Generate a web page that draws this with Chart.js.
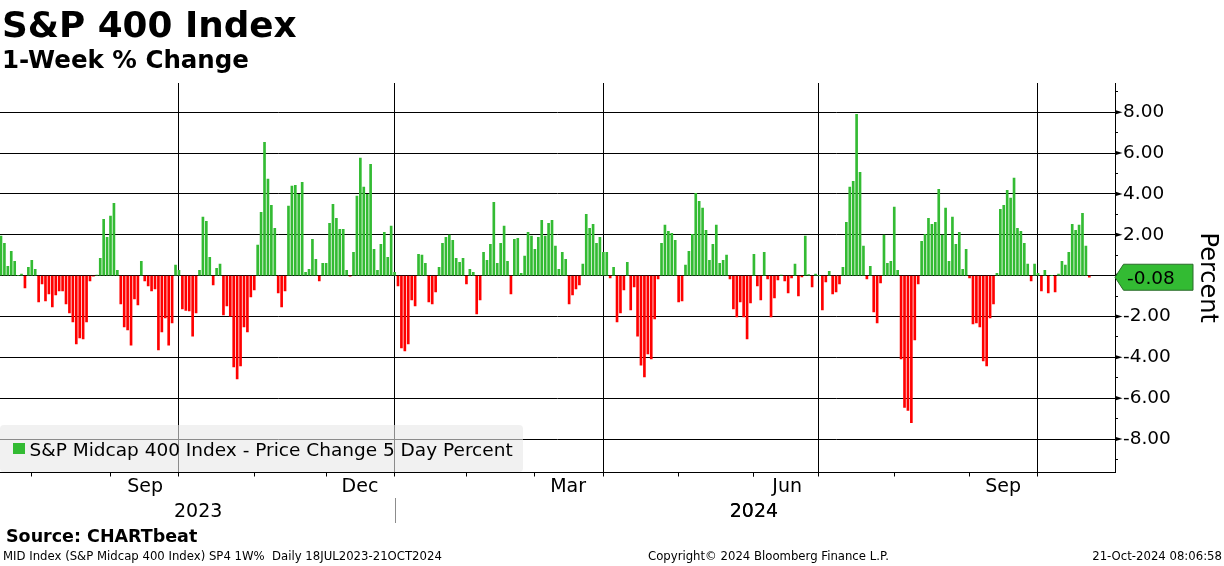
<!DOCTYPE html>
<html><head><meta charset="utf-8">
<script src="https://cdn.jsdelivr.net/npm/chart.js@4"></script>
<style>
html,body{margin:0;padding:0;background:#fff;}
#wrap{position:relative;width:1224px;height:566px;overflow:hidden;background:#fff;}
canvas{position:absolute;left:0;top:0;}
.t{position:absolute;white-space:pre;line-height:1;color:#000;font-family:"DejaVu Sans",sans-serif;}
</style></head><body>
<div id="wrap">
<canvas id="c" width="1224" height="566"></canvas>
<div class="t" style="left:2px;top:7.3px;font-size:35.8px;font-weight:bold;">S&amp;P 400 Index</div>
<div class="t" style="left:2px;top:47.6px;font-size:24.5px;font-weight:bold;">1-Week % Change</div>
<div class="t" style="left:6px;top:528px;font-size:17.5px;font-weight:bold;">Source: CHARTbeat</div>
<div class="t" style="left:3px;top:551.1px;font-size:11.7px;">MID Index (S&amp;P Midcap 400 Index) SP4 1W%  Daily 18JUL2023-21OCT2024</div>
<div class="t" style="left:648px;top:551.1px;font-size:11.7px;">Copyright© 2024 Bloomberg Finance L.P.</div>
<div class="t" style="right:2px;top:551.1px;font-size:11.7px;">21-Oct-2024 08:06:58</div>
</div>
<script>
// ---- DATA (S&P Midcap 400, 5-day % change, daily, one value per trading day) ----
const q3_2023 = [1.94, 1.58, 0.46, 1.19, 0.70, 0.00, 0.08, -0.60, 0.41, 0.75,
 0.31, -1.29, -0.41, -1.24, -0.90, -1.53, -0.95, -0.75, -0.75, -1.39,
 -1.83, -2.27, -3.35, -3.05, -3.10, -2.27, -0.26, -0.02, 0.03, 0.85,
 2.76, 1.88, 2.91, 3.54, 0.26, -1.39, -2.51, -2.66, -3.40, -1.14,
 -1.44, 0.70, -0.26, -0.51, -0.75, -0.65, -3.64, -2.76, -2.07, -3.40,
 -2.32, 0.51, 0.26];
const q4_2023 = [-1.63, -1.70, -1.73,
 -2.96, -1.83, 0.26, 2.86, 2.66, 0.90, -0.46, 0.36, 0.56, -1.93,
 -1.49, -1.98, -4.47, -5.06, -4.42, -2.51, -2.76, -1.04, -0.70, 1.49,
 3.10, 6.53, 4.72, 3.44, 2.32, -0.85, -1.53, -0.75, 3.40, 4.38,
 4.42, 3.98, 4.57, 0.16, 0.31, 1.78, 0.80, -0.26, 0.60, 0.60,
 2.56, 3.49, 2.81, 2.27, 2.27, 0.26, -0.03, 1.14, 3.89, 5.75,
 4.33, 3.98, 5.45, 1.29,
 0.26, 1.53, 2.12, 0.90, 2.42, 0.16];
const q1_2024 = [-0.51, -3.54, -3.69, -3.35,
 -1.19, -1.49, 1.04, 1.00, 0.60, -1.29, -1.39, -0.80, 0.41, 1.58,
 1.88, 1.98, 1.73, 0.85, 0.65, 0.85, -0.41, 0.31, 0.16, -1.88,
 -1.19, 1.14, 0.75, 1.53, 3.59, 0.60, 1.58, 2.42, 0.70, -0.90,
 1.78, 1.83, 0.11, 0.95, 2.12, 1.93, 1.29, 1.88, 2.71, 1.93,
 2.56, 2.71, 1.44, 0.31,
 1.14, 0.80, -1.39, -0.95, -0.65, -0.46, 0.56, 3.00, 2.32, 2.51,
 1.58, 1.88, 1.14];
const q2_2024 = [1.14, -0.11, 0.41, -2.27, -1.83, -0.70, 0.65,
 -1.68, -0.56, -2.96, -4.38, -4.96, -3.84, -4.08, -2.12, -0.16, 1.58,
 2.47, 2.17, 2.07, 1.73, -1.29, -1.24, 0.51, 1.19, 2.02, 4.03,
 3.64, 3.30, 2.22, 0.75, 1.53, 2.47, 0.60, 0.75, 1.00, -0.16,
 -1.63, -2.02, -1.29, -2.02,
 -3.10, -1.34, 1.04, -0.51, -1.19, 1.14, -0.16, -2.02, -1.09, -0.21,
 0.02, -0.26, -0.85, -0.11, 0.56, -1.00, -0.07, 1.93, 0.05, -0.56,
 0.07, 0.00];
const q3_2024 = [-1.68, -0.31, 0.21, -0.90, -0.80, -0.41, 0.41, 2.61,
 4.33, 4.62, 7.90, 5.06, 1.44, -0.16, 0.46, -1.78, -2.32, -0.36,
 1.98, 0.60, 0.70, 3.35, 0.26, -4.08, -6.45, -6.60, -7.20, -3.15,
 -0.41, 1.68, 2.02, 2.81,
 2.51, 2.61, 4.23, 1.98, 3.30, 0.70, 2.86, 1.53, 2.12, 0.31,
 1.29, -0.11, -2.37, -2.32, -2.51, -4.18, -4.42, -2.07, -1.39, 0.11,
 3.25, 3.44, 4.18, 3.79, 4.77, 2.32, 2.17, 1.58, 0.56, -0.26,
 0.56, 0.11];
const q4_2024 = [-0.75, 0.26, -0.85, 0.00, -0.80, 0.07, 0.70, 0.51,
 1.14, 2.51, 2.22, 2.47, 3.05, 1.44, -0.08];

// x-axis: trading-day indices of month ticks, quarter gridlines and label positions
const monthTicks   = [9, 32, 52, 74, 95, 115, 136, 156, 176, 198, 220, 239, 261, 283, 303];
const quarterTicks = [52, 115, 176, 239, 303];
const monthLabels    = ['Sep', 'Dec', 'Mar', 'Jun', 'Sep'];
const monthLabelPos  = [42.1, 104.9, 165.7, 229.7, 292.8];
const yearLabels     = ['2023', '2024'];
const yearLabelPos   = [57.6, 220];
const yearBoundary   = 115;
// y-axis ticks
const yTickValues = [-9,-8,-7,-6,-5,-4,-3,-2,-1,0,1,2,3,4,5,6,7,8,9];
const yMajorTicks = [-8,-6,-4,-2,0,2,4,6,8];
const seriesLabel = 'S&P Midcap 400 Index - Price Change 5 Day Percent';

// ---- CHART ----
const GREEN = '#33bb33', RED = '#ff0000';
const values = [].concat(q3_2023, q4_2023, q1_2024, q2_2024, q3_2024, q4_2024);
const points = values.map((v, i) => ({x: i, y: v}));

const labelMap = new Map();
monthLabelPos.forEach((p, i) => labelMap.set(p, monthLabels[i]));
yearLabelPos.forEach((p, i) => labelMap.set(p, ['', yearLabels[i]]));
const monthSet = new Set(monthTicks), quarterSet = new Set(quarterTicks);
const xTickValues = [...monthTicks, ...monthLabelPos, ...yearLabelPos].sort((a, b) => a - b);

const overlay = {
  id: 'overlay',
  afterDraw(chart) {
    const {ctx, scales: {x, y}, chartArea} = chart;
    const R = chartArea.right;
    ctx.save();
    // arrow-shaped major ticks
    ctx.fillStyle = '#000';
    yMajorTicks.forEach(v => {
      const py = y.getPixelForValue(v);
      ctx.beginPath();
      ctx.moveTo(R, py - 2.3); ctx.lineTo(R + 7.5, py); ctx.lineTo(R, py + 2.3);
      ctx.closePath(); ctx.fill();
    });
    // year separator
    const sx = Math.round(x.getPixelForValue(yearBoundary)) + 0.5;
    ctx.strokeStyle = '#8c8c8c'; ctx.lineWidth = 1;
    ctx.beginPath(); ctx.moveTo(sx, 498); ctx.lineTo(sx, 523); ctx.stroke();
    // legend box
    ctx.fillStyle = 'rgba(232,232,232,0.6)';
    ctx.beginPath();
    if (ctx.roundRect) ctx.roundRect(0, 425, 523, 47, 4); else ctx.rect(0, 425, 523, 47);
    ctx.fill();
    ctx.fillStyle = GREEN; ctx.fillRect(13, 443, 12, 11);
    ctx.fillStyle = '#000'; ctx.font = '18.5px "DejaVu Sans"'; ctx.textBaseline = 'alphabetic';
    ctx.textAlign = 'left';
    ctx.fillText(seriesLabel, 29.5, 456);
    // last value badge
    const last = values[values.length - 1];
    const py = y.getPixelForValue(last);
    ctx.beginPath();
    ctx.moveTo(R, py); ctx.lineTo(R + 8.5, py - 13); ctx.lineTo(1193, py - 13);
    ctx.lineTo(1193, py + 13); ctx.lineTo(R + 8.5, py + 13); ctx.closePath();
    ctx.fillStyle = GREEN; ctx.fill();
    ctx.strokeStyle = '#2b6b2b'; ctx.lineWidth = 1; ctx.stroke();
    ctx.fillStyle = '#000'; ctx.font = '18.5px "DejaVu Sans"';
    ctx.fillText(last.toFixed(2), 1127, py + 7);
    ctx.restore();
  }
};

new Chart(document.getElementById('c'), {
  type: 'bar',
  data: {datasets: [{
    label: seriesLabel,
    data: points,
    backgroundColor: c => (c.raw && c.raw.y < 0) ? RED : GREEN,
    borderWidth: 0,
    barThickness: 2
  }]},
  options: {
    responsive: false, animation: false, devicePixelRatio: 1,
    layout: {padding: {top: 83, left: 0, right: 0, bottom: 0}},
    plugins: {legend: {display: false}, tooltip: {enabled: false}},
    scales: {
      x: {
        type: 'linear', min: -0.29, max: 325.5, offset: false,
        afterBuildTicks: s => { s.ticks = xTickValues.map(v => ({value: v})); },
        afterFit: s => { s.height = 93.5; },
        ticks: {
          autoSkip: false, maxRotation: 0, minRotation: 0, padding: -1.4, color: '#000',
          font: {family: 'DejaVu Sans', size: 19, lineHeight: 1.305},
          callback: v => labelMap.has(v) ? labelMap.get(v) : ''
        },
        grid: {
          offset: false,
          color: c => (c.tick && quarterSet.has(c.tick.value)) ? '#000' : 'rgba(0,0,0,0)',
          tickColor: c => (c.tick && monthSet.has(c.tick.value)) ? '#000' : 'rgba(0,0,0,0)',
          tickLength: 4, lineWidth: 1, drawOnChartArea: true, drawTicks: true
        },
        border: {display: true, color: '#000', width: 1}
      },
      y: {
        position: 'right', min: -9.64, max: 9.43,
        afterBuildTicks: s => { s.ticks = yTickValues.map(v => ({value: v})); },
        afterFit: s => { s.width = 109; },
        ticks: {
          padding: 5, color: '#000', autoSkip: false,
          font: {family: 'DejaVu Sans', size: 18.5},
          callback: v => (v % 2 === 0 && v !== 0) ? v.toFixed(2) : ''
        },
        grid: {
          color: c => (c.tick && c.tick.value % 2 === 0) ? '#000' : 'rgba(0,0,0,0)',
          tickColor: '#000', tickLength: 3, lineWidth: 1
        },
        border: {display: true, color: '#000', width: 1},
        title: {display: true, text: 'Percent', color: '#000',
                font: {family: 'DejaVu Sans', size: 24, lineHeight: 1.2}, padding: {top: 2, bottom: 0}}
      }
    }
  },
  plugins: [overlay]
});
</script>
</body></html>
